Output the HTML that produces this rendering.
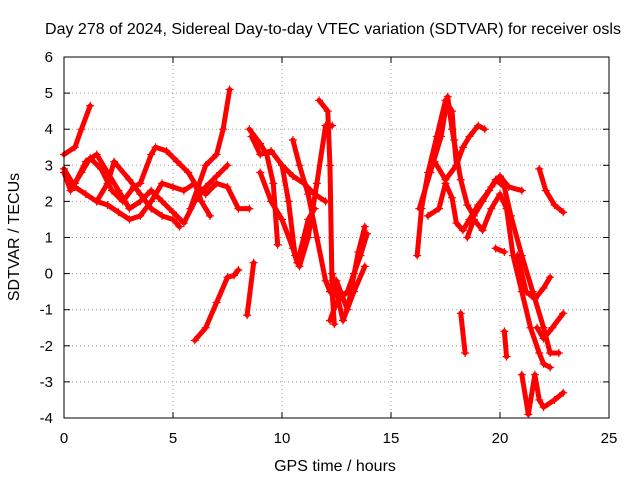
<!DOCTYPE html>
<html><head><meta charset="utf-8"><style>
body{margin:0;background:#fff}
svg text{font-family:"Liberation Sans",sans-serif;font-size:15px;fill:#000}
svg text.big{font-size:16px}
</style></head><body>
<svg width="640" height="480" xmlns="http://www.w3.org/2000/svg" id="c">
<rect width="640" height="480" fill="#fff"/>
<text class="big" x="333" y="34" text-anchor="middle">Day 278 of 2024, Sidereal Day-to-day VTEC variation (SDTVAR) for receiver osls</text>
<text class="big" x="335" y="471" text-anchor="middle">GPS time / hours</text>
<text class="big" transform="translate(19,237) rotate(-90)" text-anchor="middle">SDTVAR / TECUs</text>
<g id="grid"></g><g id="data"></g>
<rect x="64" y="57" width="545" height="361" fill="none" stroke="#000" stroke-width="1"/>
</svg>
<script>
const xTicks=[0,5,10,15,20,25];
const yTicks=[-4,-3,-2,-1,0,1,2,3,4,5,6];
const tracks=[
[[0,3.3],[0.5,3.5],[0.8,4.0],[1.2,4.65]],
[[0,2.9],[0.5,2.4],[1,2.2],[1.5,2.0],[2,1.9],[2.5,1.7],[3,1.5],[3.5,1.6],[4,2.0],[4.5,2.5],[5,2.4],[5.5,2.3],[6,2.5],[6.5,2.2],[7,2.5],[7.5,2.4],[8,1.8],[8.5,1.8]],
[[0,2.8],[0.3,2.3],[0.8,2.8],[1.2,3.2],[1.7,2.9],[2.2,2.3],[2.7,2.0],[3.2,2.4],[3.5,2.5],[4,3.3],[4.2,3.5],[4.7,3.4],[5.2,3.1],[5.7,2.8],[6,2.5],[6.3,2.0],[6.7,1.6]],
[[0.5,2.5],[1,3.1],[1.5,3.3],[2,2.8],[2.5,2.3],[3,1.8],[3.5,2.0],[4,2.3],[4.5,2.0],[5,1.7],[5.5,1.4],[6,2.0],[6.5,2.4],[7,2.7],[7.5,3.0]],
[[1.5,2.0],[2,2.5],[2.3,3.1],[3,2.6],[3.5,2.2],[4,1.8],[4.5,1.6],[5,1.5],[5.3,1.3]],
[[5.8,1.8],[6.5,3.0],[7,3.3],[7.3,4.0],[7.6,5.1]],
[[6,-1.85],[6.5,-1.5],[7,-0.8],[7.5,-0.1],[7.8,-0.05],[8,0.1]],
[[8.4,-1.15],[8.7,0.3]],
[[8.5,4.0],[9,3.6],[9.3,3.3],[9.6,2.5],[9.8,0.8]],
[[8.6,3.8],[9,3.3],[9.5,3.4],[10,3.0],[10.5,2.7],[11,2.5],[11.5,2.2],[12,2.0]],
[[10,3.0],[10.3,2.0],[10.6,0.5],[10.8,0.2],[11.2,1.0],[11.6,2.5],[12,4.1],[12.3,4.1]],
[[9,2.8],[9.5,2.0],[10,1.5],[10.5,0.7],[10.7,0.3],[11,1.0],[11.2,1.5],[11.5,1.8]],
[[10.5,3.7],[10.8,3.0],[11.2,2.2],[11.6,1.0],[12,-0.2],[12.2,-0.5]],
[[11.7,4.8],[12.1,4.5],[12.2,3.0],[12.3,-0.5],[12.4,-1.4]],
[[12.2,-1.3],[12.5,-0.8],[13,-0.5],[13.3,0],[13.6,0.5],[13.9,1.1]],
[[12.3,0],[12.8,-1.3],[13.3,-0.5],[13.8,0.2]],
[[12.5,-0.2],[13,-1.0],[13.5,0.6],[13.8,1.3]],
[[16.2,0.5],[16.4,1.8],[16.7,2.8],[17.1,3.8],[17.5,4.8],[17.8,4.5],[17.9,3.7],[18,3.0]],
[[16.3,1.8],[16.8,2.8],[17.3,3.8],[17.6,4.9],[17.8,4.0],[18.2,2.6],[18.5,1.9],[18.8,1.6],[19.2,2.0],[19.6,2.4],[20,2.7],[20.4,2.4],[21,2.3]],
[[17,3.1],[17.5,2.6],[18,3.0],[18.3,3.5],[18.6,3.8],[19,4.1],[19.3,4.0]],
[[16.7,1.6],[17.2,1.8],[17.5,2.5],[17.8,2.1],[18,1.4],[18.3,1.2],[18.6,1.5],[19,1.9],[19.5,2.3],[19.8,2.6],[20.2,2.4],[20.5,1.6],[21,0.5],[21.5,-0.5],[22,-1.5],[22.3,-2.2],[22.7,-2.2]],
[[18.5,1.0],[18.8,1.5],[19.2,1.2],[19.6,1.8],[20,2.2],[20.3,1.8],[20.6,0.5],[21,-0.5],[21.4,-1.5],[21.8,-2.2],[22,-2.5],[22.3,-2.6]],
[[18.2,-1.1],[18.4,-2.2]],
[[20.2,-1.6],[20.3,-2.3]],
[[19.8,0.7],[20.2,0.6]],
[[20.8,0.5],[21.2,-0.5],[21.6,-0.7],[22,-0.4],[22.3,-0.1]],
[[21,-2.8],[21.3,-3.9],[21.6,-2.8],[21.8,-3.5],[22,-3.7],[22.5,-3.5],[22.9,-3.3]],
[[21.7,-1.5],[22,-1.8],[22.4,-1.5],[22.9,-1.1]],
[[21.8,2.9],[22.1,2.3],[22.5,1.9],[22.9,1.7]]
];
const NS="http://www.w3.org/2000/svg";
const X=h=>64+h*545/25, Y=v=>418-(v+4)*36.1;
const g=document.getElementById('grid'), d=document.getElementById('data');
function mk(t,a,p){const e=document.createElementNS(NS,t);for(const k in a)e.setAttribute(k,a[k]);p.appendChild(e);return e;}
xTicks.forEach(t=>{
  const x=X(t);
  if(t>0&&t<25){const l=mk('line',{x1:x,x2:x,y1:57,y2:418,stroke:'#a0a0a0','stroke-dasharray':'1,3'},g);
  
  }
  mk('line',{x1:x,x2:x,y1:418,y2:412,stroke:'#000'},g);mk('line',{x1:x,x2:x,y1:57,y2:63,stroke:'#000'},g);
  const tx=mk('text',{x:x,y:443,'text-anchor':'middle'},g);tx.textContent=t;
  
  
});
yTicks.forEach(t=>{
  const y=Y(t);
  if(t>-4&&t<6){const l=mk('line',{x1:64,x2:609,y1:y,y2:y,stroke:'#a0a0a0','stroke-dasharray':'1,3'},g);
  
  }
  mk('line',{x1:64,x2:70,y1:y,y2:y,stroke:'#000'},g);mk('line',{x1:609,x2:603,y1:y,y2:y,stroke:'#000'},g);
  const tx=mk('text',{x:53,y:y+5,'text-anchor':'end'},g);tx.textContent=t;
  
  
});
tracks.forEach(tr=>{
  const pts=tr.map(p=>X(p[0])+','+Y(p[1])).join(' ');
  const pl=mk('polyline',{points:pts,fill:'none',stroke:'#f00','stroke-width':5,'stroke-linejoin':'round','stroke-linecap':'round'},d);
  
  
  tr.forEach(p=>{const x=X(p[0]),y=Y(p[1]);
    const m=mk('path',{d:`M${x-4},${y}H${x+4}M${x},${y-4}V${y+4}`,stroke:'#f00','stroke-width':1.2},d);
    
    
  });
});
</script>
</body></html>
